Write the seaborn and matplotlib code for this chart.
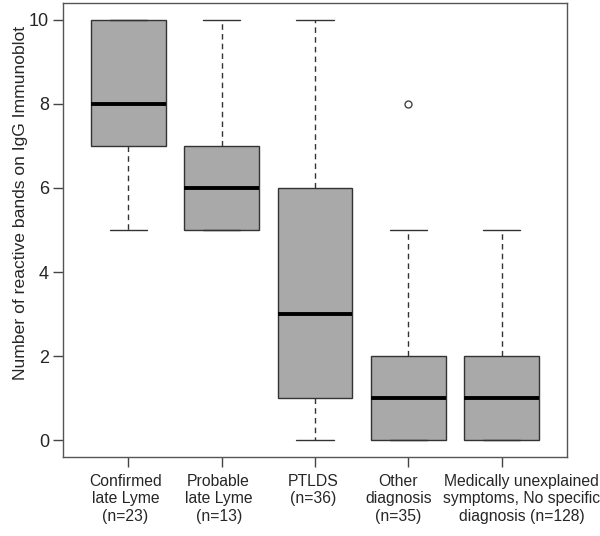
import pandas as pd
import seaborn as sns
import matplotlib.pyplot as plt
from matplotlib.transforms import ScaledTranslation

# reactive band counts per group, read from the box summaries
groups = [
    "Confirmed\nlate Lyme\n(n=23)",
    "Probable\nlate Lyme\n(n=13)",
    "PTLDS\n(n=36)",
    "Other\ndiagnosis\n(n=35)",
    "Medically unexplained\nsymptoms, No specific\ndiagnosis (n=128)",
]
confirmed = [5, 7, 8, 10, 10]
probable = [5, 5, 6, 7, 10]
ptlds = [0, 1, 3, 6, 10]
other = [0, 0, 0, 1, 1, 2, 2, 5, 8]
unexplained = [0, 0, 1, 2, 5]
yticks = [0, 2, 4, 6, 8, 10]

rows = []
for g, vals in zip(groups, [confirmed, probable, ptlds, other, unexplained]):
    for v in vals:
        rows.append({"group": g, "bands": v})
df = pd.DataFrame(rows)

sns.set_style("white")
plt.rcParams['font.family'] = ['Liberation Sans', 'DejaVu Sans']

fig = plt.figure(figsize=(6, 5.36), dpi=100)
ax = fig.add_axes([0.105, 0.1474, 0.84, 0.847])

sns.boxplot(
    data=df, x="group", y="bands", order=groups, ax=ax,
    width=0.8, color="#a9a9a9", saturation=1, linewidth=1,
    linecolor="#333333",
    boxprops=dict(facecolor="#a9a9a9", edgecolor="#333333"),
    medianprops=dict(color="black", linewidth=2.8),
    whiskerprops=dict(linestyle=(0, (4, 3)), color="#333333"),
    capprops=dict(color="#333333"),
    flierprops=dict(marker="o", markersize=5, markerfacecolor="white",
                    markeredgecolor="#444444"),
)

ax.set_xlim(-0.7, 4.7)
ax.set_ylim(-0.4, 10.4)
ax.set_yticks(yticks)
ax.set_xlabel("")
ax.set_ylabel("Number of reactive bands on IgG Immunoblot", fontsize=12.6)
ax.yaxis.set_label_coords(-0.069, 0.559)
ax.tick_params(axis="both", direction="out", length=7, width=1, color="#444444",
               pad=3, bottom=True, left=True)
ax.tick_params(axis="y", labelsize=13)
ax.tick_params(axis="x", labelsize=11.3, pad=5)

# the labels under the last boxes are nudged apart so they don't collide
shifts = [-3, -3, -2, -10, 20]
for lab, dx in zip(ax.get_xticklabels(), shifts):
    lab.set_linespacing(1.22)
    lab.set_transform(lab.get_transform() + ScaledTranslation(dx / 100, 0, fig.dpi_scale_trans))

for s in ax.spines.values():
    s.set_color("#555555")
    s.set_linewidth(1)

plt.savefig("out.png", dpi=100)
plt.close()
